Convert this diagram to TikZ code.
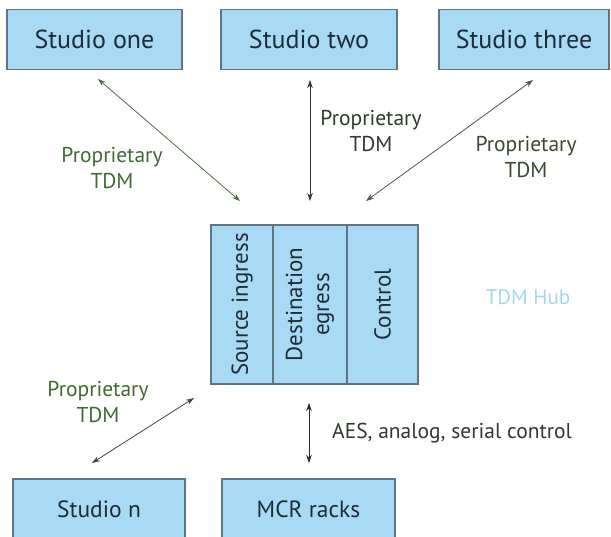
\documentclass[tikz,border=0pt]{standalone}
\usepackage{fontspec}
\setmainfont{PT Sans}
\usetikzlibrary{arrows.meta}

\definecolor{boxfill}{HTML}{A8DAF3}
\definecolor{boxline}{HTML}{5E7684}
\definecolor{boxtext}{HTML}{1E2C38}
\definecolor{greenlab}{HTML}{3F6A34}
\definecolor{darklab}{HTML}{2E3A2C}
\definecolor{olivelab}{HTML}{3A4930}
\definecolor{hubtext}{HTML}{A2D8EE}

\tikzset{
    studio/.style={draw=boxline, line width=1.1pt, fill=boxfill, text=boxtext,
        minimum height=60, inner sep=0pt, font=\fontsize{26}{29}\selectfont},
    lowstudio/.style={studio, font=\fontsize{23.5}{27}\selectfont},
    cell/.style={studio, rotate=90, align=center, minimum width=159,
        font=\fontsize{23}{27}\selectfont},
    link/.style={line width=0.8pt, {Stealth[length=8pt,width=5.5pt]}-{Stealth[length=8pt,width=5.5pt]}},
    linklabel/.style={align=center, font=\fontsize{21.5}{26}\selectfont}
}

\begin{document}
\begin{tikzpicture}[x=1pt,y=1pt]
    \useasboundingbox (0,0) rectangle (611,536);
    \clip (0,0) rectangle (611,536);

    % studios on top
    \node[studio, minimum width=175] (one) at (94.5,496.5) {Studio one};
    \node[studio, minimum width=176] (two) at (309,496.5) {Studio two};
    \node[studio, minimum width=170] (three) at (524,496.5) {Studio three};

    % the hub
    \node[cell, minimum height=62] (src) at (242,231.5) {Source ingress};
    \node[cell, minimum height=74] (dst) at (310,231.5) {Destination\\egress};
    \node[cell, minimum height=71] (ctl) at (382.5,231.5) {Control};
    \node[text=hubtext, font=\fontsize{21}{24}\selectfont] (hub) at (528,239) {TDM Hub};

    % bottom row
    \node[lowstudio, minimum width=172] (studn) at (99,27) {Studio n};
    \node[lowstudio, minimum width=173] (mcr) at (308.5,27) {MCR racks};

    % arrow ends
    \coordinate (one-end) at (98,457);
    \coordinate (one-hub) at (240,335);
    \coordinate (two-end) at (310,456);
    \coordinate (two-hub) at (310,335);
    \coordinate (three-end) at (533,456);
    \coordinate (three-hub) at (366,335);
    \coordinate (n-hub) at (194,138);
    \coordinate (n-end) at (92,73);
    \coordinate (mcr-hub) at (309,133);
    \coordinate (mcr-end) at (309,73);

    \draw[link, color=greenlab!80!gray] (one-end) -- (one-hub);
    \draw[link, color=darklab] (two-end) -- (two-hub);
    \draw[link, color=olivelab!70!gray] (three-end) -- (three-hub);
    \draw[link, color=darklab!80!gray] (n-hub) -- (n-end);
    \draw[link, color=black!85] (mcr-hub) -- (mcr-end);

    \node[linklabel, text=greenlab] (lab1) at (112,368) {Proprietary\\TDM};
    \node[linklabel, text=darklab] (lab2) at (371,405) {Proprietary\\TDM};
    \node[linklabel, text=olivelab] (lab3) at (526,379) {Proprietary\\TDM};
    \node[linklabel, text=greenlab] (labn) at (98,134) {Proprietary\\TDM};
    \node[linklabel, text=darklab, anchor=west, inner sep=0pt] (aes) at (332,103) {AES, analog, serial control};
\end{tikzpicture}
\end{document}
